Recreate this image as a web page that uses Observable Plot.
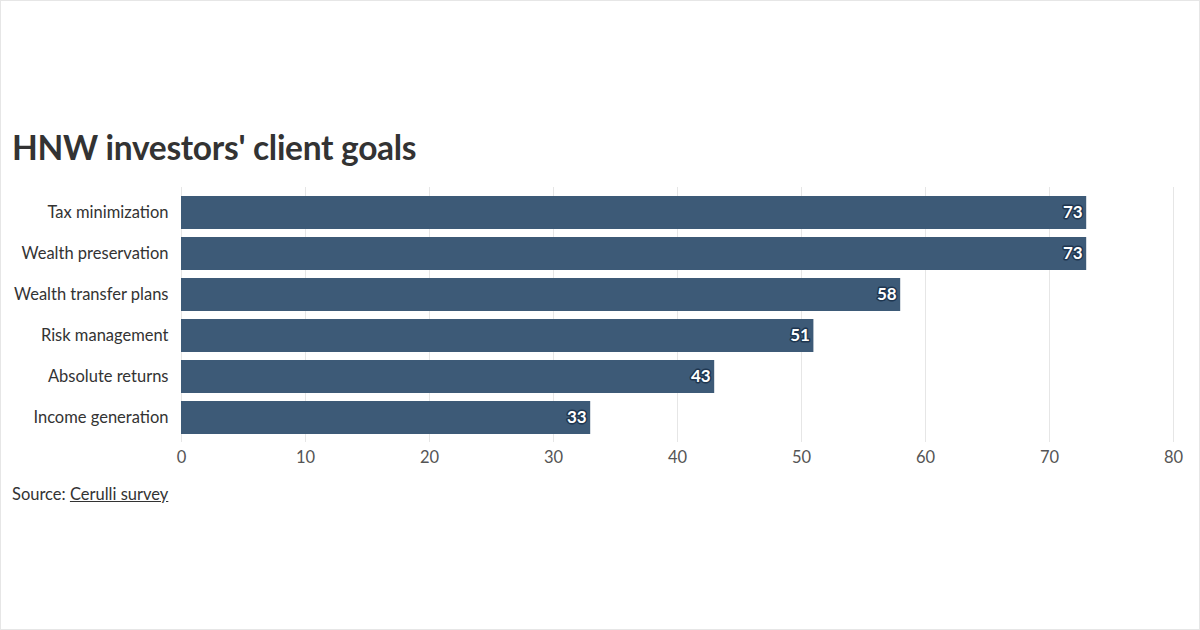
<!DOCTYPE html>
<html><head><meta charset="utf-8">
<script src="https://cdn.jsdelivr.net/npm/d3@7"></script>
<script src="https://cdn.jsdelivr.net/npm/@observablehq/plot@0.6"></script>
<style>
html,body{margin:0;padding:0;background:#fff;}
body{width:1200px;height:630px;position:relative;overflow:hidden;font-family:Lato,"Noto Sans",sans-serif;}
#frame{position:absolute;left:0;top:0;width:1198px;height:628px;border:1px solid #e6e6e6;z-index:5;pointer-events:none;}
#title{position:absolute;left:12px;top:127px;font-size:33.5px;font-weight:700;color:#333;letter-spacing:-0.3px;}
#chart{position:absolute;left:0;top:180px;}
#source{position:absolute;left:12px;top:484px;font-size:16.5px;color:#333;}
#source u{text-decoration:underline;}
</style></head><body>
<div id="frame"></div>
<div id="title">HNW investors' client goals</div>
<div id="chart"></div>
<div id="source">Source: <u>Cerulli survey</u></div>
<script>
const categories = ["Tax minimization","Wealth preservation","Wealth transfer plans","Risk management","Absolute returns","Income generation"];
const values = [73,73,58,51,43,33];
const xTicks = [0,10,20,30,40,50,60,70,80];
const data = categories.map((c,i)=>({goal:c, value:values[i]}));

const chart = Plot.plot({
  width: 1200,
  height: 300,
  marginLeft: 181,
  marginRight: 27,
  marginTop: 7,
  marginBottom: 38,
  style: {fontFamily: "Lato, 'Noto Sans', sans-serif", fontSize: "16px", color: "#444", background: "transparent"},
  x: {domain: [0,80], ticks: xTicks, label: null, tickSize: 0, tickPadding: 8},
  y: {domain: categories, padding: 0.2, label: null, tickSize: 0, tickPadding: 13},
  marks: [
    Plot.ruleX(xTicks, {stroke: "#e6e6e6", strokeWidth: 1, strokeOpacity: 1}),
    Plot.barX(data, {x: "value", y: "goal", fill: "#3d5a77"}),
    Plot.text(data, {x: "value", y: "goal", text: d => String(d.value), textAnchor: "end", dx: -4,
      fill: "#fff", stroke: "#1e3650", strokeWidth: 3, fontWeight: "bold", fontSize: 17}),
    Plot.axisX({ticks: xTicks, tickSize: 0, tickPadding: 9, fill: "#555", fontSize: 16.5}),
    Plot.axisY({tickSize: 0, tickPadding: 13, fill: "#333", fontSize: 16.5})
  ]
});
document.getElementById("chart").appendChild(chart);
</script>
</body></html>
